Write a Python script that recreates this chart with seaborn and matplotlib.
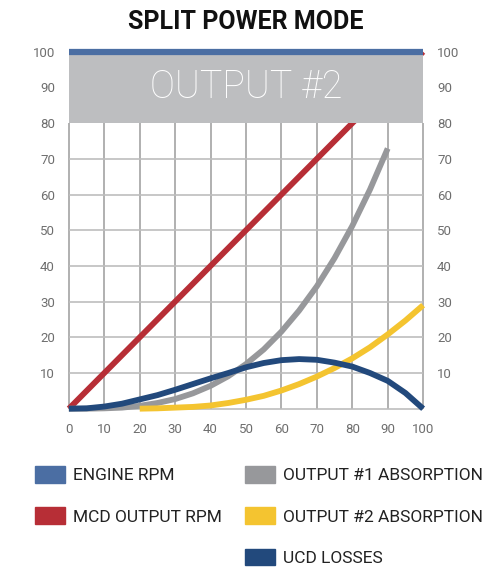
import matplotlib
matplotlib.use("Agg")
import matplotlib.pyplot as plt
import seaborn as sns
from matplotlib.patches import Patch

# ---- data ----
title = "SPLIT POWER MODE"
band_label = "OUTPUT #2"
x_ticks = [0, 10, 20, 30, 40, 50, 60, 70, 80, 90, 100]
y_ticks = [10, 20, 30, 40, 50, 60, 70, 80, 90, 100]

engine_x = [0, 100]
engine_y = [100, 100]

mcd_x = [0, 100]
mcd_y = [0, 100]

out1_x = [0, 5, 10, 15, 20, 25, 30, 35, 40, 45, 50, 55, 60, 65, 70, 75, 80, 85, 90]
out1_y = [0, 0.0, 0.1, 0.3, 0.8, 1.6, 2.7, 4.3, 6.4, 9.1, 12.5, 16.6, 21.6, 27.5, 34.3, 42.2, 51.2, 61.4, 72.9]

out2_x = [20, 25, 30, 35, 40, 45, 50, 55, 60, 65, 70, 75, 80, 85, 90, 95, 100]
out2_y = [0, 0.1, 0.3, 0.5, 0.9, 1.6, 2.5, 3.6, 5.1, 6.9, 9.0, 11.4, 14.1, 17.2, 20.8, 24.7, 29.0]

ucd_x = [0, 5, 10, 15, 20, 25, 30, 35, 40, 45, 50, 55, 60, 65, 70, 75, 80, 85, 90, 95, 100]
ucd_y = [0, 0.1, 0.6, 1.4, 2.6, 3.8, 5.3, 6.9, 8.5, 10.0, 11.6, 12.8, 13.6, 13.9, 13.7, 12.9, 11.8, 10.0, 7.8, 4.4, 0]

legend_left = ["ENGINE RPM", "MCD OUTPUT RPM"]
legend_right = ["OUTPUT #1 ABSORPTION", "OUTPUT #2 ABSORPTION", "UCD LOSSES"]

c_engine = "#4B6EA3"
c_mcd = "#B72E36"
c_out1 = "#97989B"
c_out2 = "#F4C430"
c_ucd = "#22497C"
c_band = "#BDBEC0"

sns.set_style("white")
plt.rcParams['font.family'] = ['Roboto', 'DejaVu Sans']

fig = plt.figure(figsize=(4.92, 5.72), dpi=100)
ax = fig.add_axes([0.140, 0.2855, 0.720, 0.624])

# grid
for xv in x_ticks:
    ax.plot([xv, xv], [0, 80], color="#A3A3A3", lw=1.2, zorder=1)
for yv in [0, 10, 20, 30, 40, 50, 60, 70]:
    ax.plot([0, 100], [yv, yv], color="#BEBEBE", lw=1.2, zorder=1)

sns.lineplot(x=mcd_x, y=mcd_y, ax=ax, color=c_mcd, lw=4.2, zorder=2)
sns.lineplot(x=out1_x, y=out1_y, ax=ax, color=c_out1, lw=4.2, zorder=3)
sns.lineplot(x=out2_x, y=out2_y, ax=ax, color=c_out2, lw=4.2, zorder=3.5)
sns.lineplot(x=ucd_x, y=ucd_y, ax=ax, color=c_ucd, lw=4.2, zorder=4)

ax.axhspan(80, 100, color=c_band, zorder=5, lw=0)
sns.lineplot(x=engine_x, y=engine_y, ax=ax, color=c_engine, lw=4.5, zorder=6)
for l in ax.lines:
    l.set_solid_capstyle("butt")
    l.set_clip_on(False)

ax.text(50, 90, band_label, ha="center", va="center", color="white",
        fontsize=27, fontfamily=['Roboto', 'DejaVu Sans'], fontweight='light', zorder=7)

ax.set_xlim(0, 100)
ax.set_ylim(0, 100)
for s in ax.spines.values():
    s.set_visible(False)
ax.set_xticks(x_ticks)
ax.set_yticks(y_ticks)
ax.tick_params(axis='both', length=0, labelsize=9.5, labelcolor="#6E6E6E")
ax.tick_params(axis='y', pad=10, labelright=True, right=False)
ax.tick_params(axis='x', pad=10.5)
ax.set_xlabel("")
ax.set_ylabel("")

ttl = fig.text(0.5, 0.962, title, ha="center", va="center", fontsize=18,
               fontweight="bold", color="#111111")

fs = 12.5
fpx = fs * 100 / 72
h_left = [Patch(color=c_engine), Patch(color=c_mcd)]
h_right = [Patch(color=c_out1), Patch(color=c_out2), Patch(color=c_ucd)]
kw = dict(frameon=False, fontsize=fs, handlelength=30 / fpx, handleheight=19 / fpx,
          handletextpad=8 / fpx, labelspacing=1.39, borderaxespad=0, borderpad=0)
leg1 = fig.legend(h_left, legend_left, loc="upper left", bbox_to_anchor=(35 / 492, 1 - 466 / 572), **kw)
leg2 = fig.legend(h_right, legend_right, loc="upper left", bbox_to_anchor=(245 / 492, 1 - 466 / 572), **kw)
for leg in (leg1, leg2):
    for t in leg.get_texts():
        t.set_color("#222222")

fig.savefig("out.png", dpi=100)
